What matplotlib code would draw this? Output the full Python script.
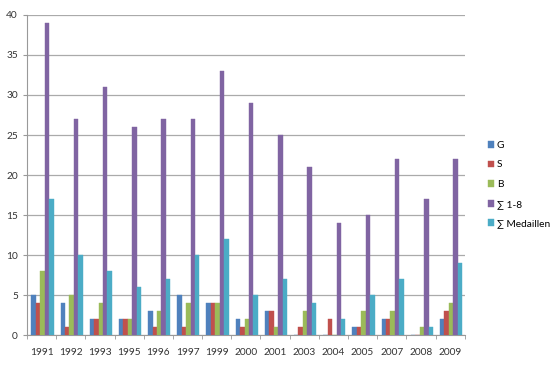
import matplotlib
matplotlib.use("Agg")
import matplotlib.pyplot as plt
import numpy as np

years = ["1991", "1992", "1993", "1995", "1996", "1997", "1999", "2000",
         "2001", "2003", "2004", "2005", "2007", "2008", "2009"]
gold = [5, 4, 2, 2, 3, 5, 4, 2, 3, 0, 0, 1, 2, 0, 2]
silver = [4, 1, 2, 2, 1, 1, 4, 1, 3, 1, 2, 1, 2, 0, 3]
bronze = [8, 5, 4, 2, 3, 4, 4, 2, 1, 3, 0, 3, 3, 1, 4]
top8 = [39, 27, 31, 26, 27, 27, 33, 29, 25, 21, 14, 15, 22, 17, 22]
medals = [17, 10, 8, 6, 7, 10, 12, 5, 7, 4, 2, 5, 7, 1, 9]

series_names = ["G", "S", "B", "\u2211 1-8", "\u2211 Medaillen"]
colors = ["#4F81BD", "#C0504D", "#9BBB59", "#8064A2", "#4BACC6"]
series = [gold, silver, bronze, top8, medals]

plt.rcParams['font.family'] = ['Lato', 'DejaVu Sans']
fig = plt.figure(figsize=(5.5, 3.65), dpi=100)
ax = fig.add_axes([0.049, 0.082, 0.796, 0.877])

x = np.arange(len(years))
w = 0.152
for i, (vals, c, name) in enumerate(zip(series, colors, series_names)):
    ax.bar(x + 0.03 + (i - 2) * w, vals, width=w, color=c, label=name,
           edgecolor=c, linewidth=0.3, zorder=3)

ax.set_xlim(-0.5, len(years) - 0.5)
ax.set_ylim(0, 40)
ax.set_yticks(range(0, 41, 5))
ax.set_xticks(x)
ax.set_xticklabels(years)
ax.set_xticks(np.arange(-0.5, len(years), 1.0), minor=True)
ax.tick_params(axis='both', labelsize=7.3, colors='#333333', length=3)
ax.tick_params(axis='x', which='major', length=0, pad=9)
ax.tick_params(axis='x', which='minor', length=3, color='#999999')
ax.tick_params(axis='y', color='#999999')
ax.yaxis.grid(True, color='#aaaaaa', linewidth=0.9, zorder=0)
ax.set_axisbelow(True)
for s in ['top', 'right']:
    ax.spines[s].set_visible(False)
ax.spines['left'].set_color('#999999')
ax.spines['bottom'].set_color('#999999')

leg = ax.legend(loc='center left', bbox_to_anchor=(1.052, 0.47), frameon=False,
                fontsize=7.3, handlelength=0.65, handleheight=0.65,
                handletextpad=0.25, labelspacing=1.05, borderpad=0,
                borderaxespad=0)
fig.savefig("out.png", dpi=100)
